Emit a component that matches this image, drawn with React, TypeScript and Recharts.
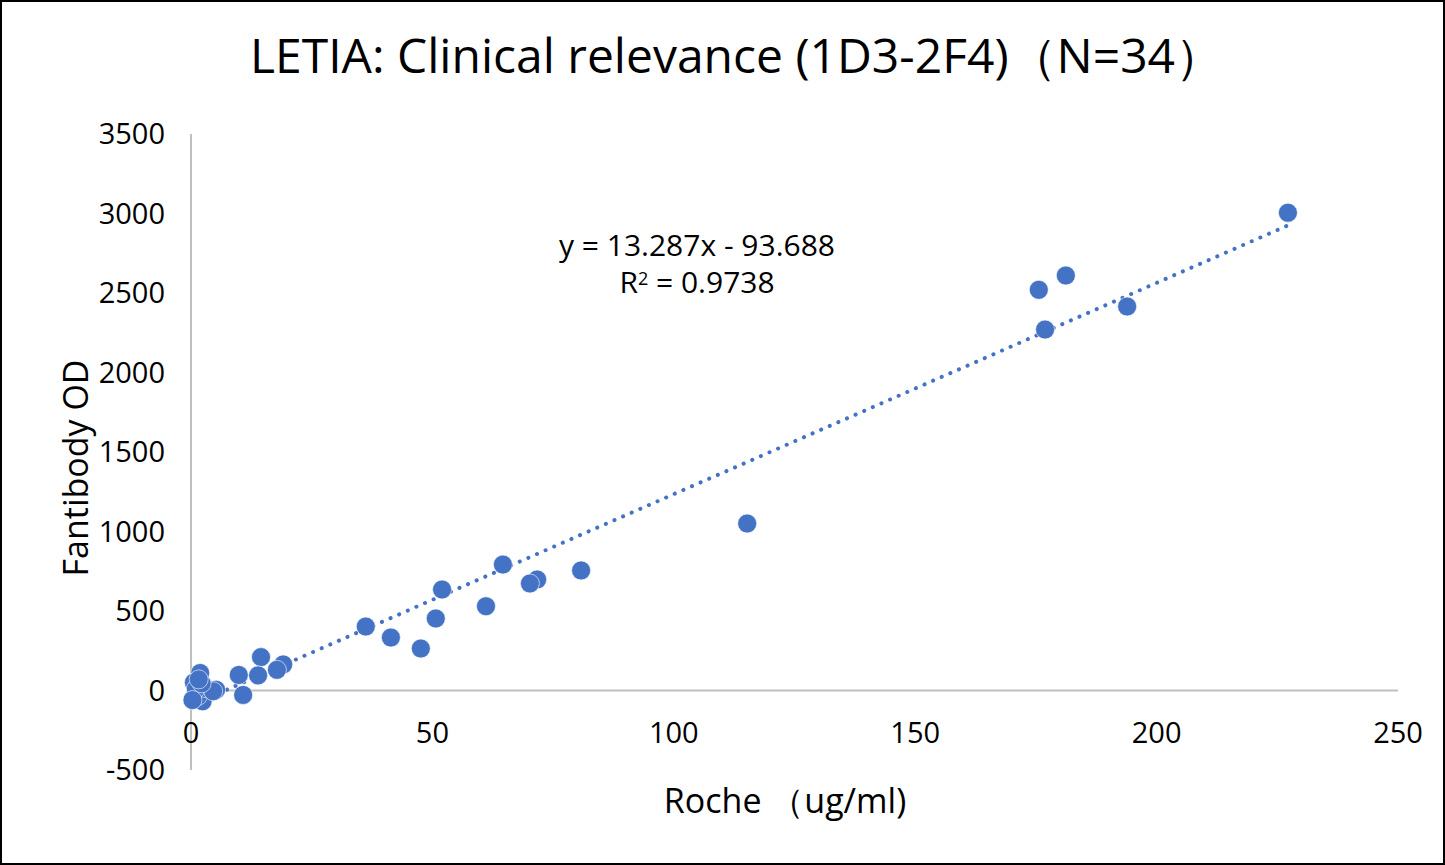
import React from "react";
import {
    ScatterChart,
    Scatter,
    XAxis,
    YAxis,
    ZAxis,
    ReferenceLine,
    Label,
} from "recharts";

// Roche (ug/ml) vs Fantibody OD, 34 samples
const rocheValues = [
    227.2, 175.6, 181.2, 176.9, 193.9, 115.2, 80.8, 71.7, 70.2, 64.6, 61.1,
    52.0, 50.7, 47.6, 41.4, 36.2, 19.1, 17.8, 14.5, 13.9, 9.9, 10.8,
    1.9, 0.6, 5.2, 0.5, 2.4, 1.4, 3.0, 1.0, 4.6, 2.2, 1.6, 0.3,
]
const odValues = [
    3005, 2520, 2610, 2270, 2415, 1050, 755, 698, 673, 792, 530,
    635, 453, 264, 333, 402, 164, 130, 210, 95, 98, -28,
    110, 50, 5, -50, -68, -35, 15, 10, -5, 45, 70, -60,
]

const xTicks = [0, 50, 100, 150, 200, 250]
const yTicks = [-500, 0, 500, 1000, 1500, 2000, 2500, 3000, 3500]

const slope = 13.287
const intercept = -93.688
const rSquared = "0.9738"

const points = rocheValues.map((x, i) => ({ x, y: odValues[i] }))
const xMin = Math.min(...rocheValues)
const xMax = Math.max(...rocheValues)

const BLUE = "#4472C4"
const AXIS_GRAY = "#bfbfbf"
const FONT = "'Open Sans', 'Noto Sans', sans-serif"

function XTick({ x, y, payload }: any) {
    return (
        <text
            x={x}
            y={y}
            dy={-39}
            textAnchor="middle"
            dominantBaseline="central"
            fill="#000"
            fontSize={29}
            fontFamily={FONT}
        >
            {payload.value}
        </text>
    )
}

export default function App() {
    return (
        <div
            style={{
                position: "absolute",
                left: 0,
                top: 0,
                width: 1445,
                height: 865,
                boxSizing: "border-box",
                border: "2px solid #000",
                background: "#fff",
                fontFamily: FONT,
            }}
        >
            <div
                style={{
                    position: "absolute",
                    left: 14,
                    width: "100%",
                    top: 20,
                    textAlign: "center",
                    fontSize: 48,
                    color: "#000",
                }}
            >
                LETIA: Clinical relevance (1D3-2F4)（N=34）
            </div>
            <div style={{ position: "absolute", left: -2, top: -2 }}>
                <ScatterChart
                    width={1445}
                    height={865}
                    margin={{ top: 134, right: 47, bottom: 35, left: 91 }}
                >
                    <XAxis
                        type="number"
                        dataKey="x"
                        domain={[0, 250]}
                        ticks={xTicks}
                        axisLine={false}
                        tickLine={false}
                        tickSize={0}
                        tickMargin={0}
                        height={60}
                        tick={<XTick />}
                    >
                        <Label
                            content={() => (
                                <text
                                    x={785}
                                    y={800}
                                    textAnchor="middle"
                                    dominantBaseline="central"
                                    fontSize={34}
                                    fill="#000"
                                    fontFamily={FONT}
                                >
                                    Roche （ug/ml)
                                </text>
                            )}
                        />
                    </XAxis>
                    <YAxis
                        type="number"
                        dataKey="y"
                        domain={[-500, 3500]}
                        ticks={yTicks}
                        width={100}
                        axisLine={{ stroke: AXIS_GRAY, strokeWidth: 2 }}
                        tickLine={false}
                        tickMargin={20}
                        tick={{ fontSize: 29, fill: "#000", fontFamily: FONT }}
                    >
                        <Label
                            content={() => (
                                <text
                                    x={75}
                                    y={468}
                                    transform="rotate(-90 75 468)"
                                    textAnchor="middle"
                                    dominantBaseline="central"
                                    fontSize={34}
                                    fill="#000"
                                    fontFamily={FONT}
                                >
                                    Fantibody OD
                                </text>
                            )}
                        />
                    </YAxis>
                    <ZAxis range={[260, 260]} />
                    <ReferenceLine y={0} stroke={AXIS_GRAY} strokeWidth={2} />
                    <ReferenceLine
                        segment={[
                            { x: xMin, y: slope * xMin + intercept },
                            { x: xMax, y: slope * xMax + intercept },
                        ]}
                        stroke={BLUE}
                        strokeWidth={4}
                        strokeDasharray="0.1 9.3"
                        strokeLinecap="round"
                        ifOverflow="visible"
                    />
                    <Scatter
                        data={points}
                        fill={BLUE}
                        isAnimationActive={false}
                        shape={(props: any) => (
                            <circle cx={props.cx} cy={props.cy} r={9.5} fill={BLUE} stroke="#fff" strokeWidth={0.6} />
                        )}
                    />
                </ScatterChart>
            </div>
            <div
                style={{
                    position: "absolute",
                    left: 445,
                    width: 500,
                    top: 224,
                    textAlign: "center",
                    fontSize: 30,
                    lineHeight: "37px",
                    color: "#000",
                }}
            >
                <div>y = 13.287x - 93.688</div>
                <div>
                    R<sup style={{ fontSize: 18, verticalAlign: "top", lineHeight: "30px" }}>2</sup> = {rSquared}
                </div>
            </div>
        </div>
    )
}
